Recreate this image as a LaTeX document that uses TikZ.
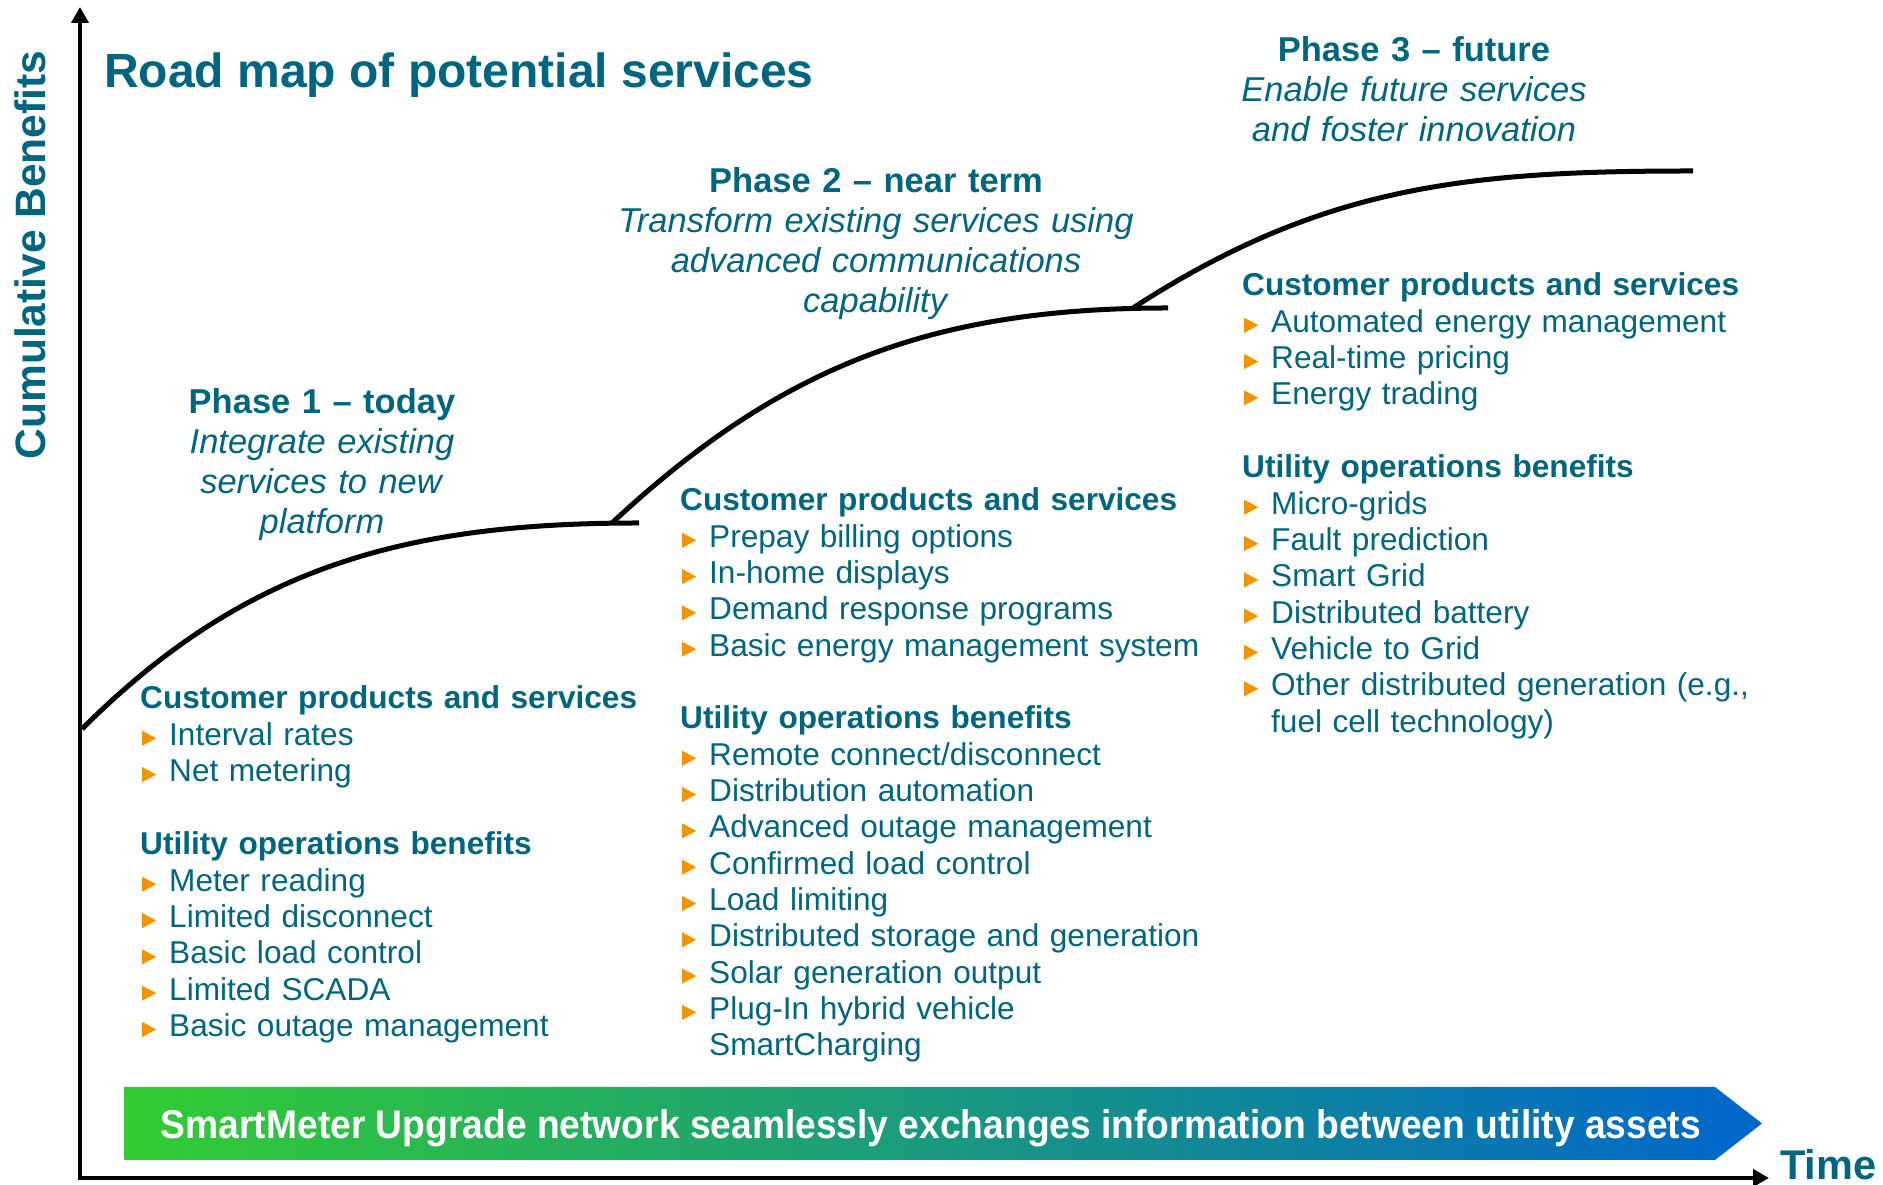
\documentclass[tikz,border=0pt]{standalone}
\usepackage{fontspec}
\setmainfont{Liberation Sans}
\newfontfamily\bandfont[FakeStretch=0.93]{Liberation Sans}
\usetikzlibrary{arrows.meta}

\definecolor{roadteal}{RGB}{0,102,128}
\definecolor{bulorange}{RGB}{242,148,0}
\definecolor{bandgreen}{RGB}{51,204,51}
\definecolor{bandblue}{RGB}{0,102,204}

% orange bullet and the indent of a continued line
\newcommand{\bul}{\hspace*{2pt}\tikz[baseline=0pt]\fill[bulorange] (0pt,-0.5pt) -- (0pt,14.5pt) -- (14pt,7pt) -- cycle;\hspace*{13pt}}
\newcommand{\cont}{\hspace*{29pt}}

\begin{document}
\begin{tikzpicture}[x=1pt, y=1pt,
    phase/.style = {align=center, text width=560pt, text=roadteal, inner sep=0pt, anchor=base, font=\fontsize{34.5}{40}\selectfont},
    list/.style = {align=left, text width=560pt, text=roadteal, inner sep=0pt, anchor=base west, font=\fontsize{31.6}{36.3}\selectfont},
    curve/.style = {line width=5pt},
    axis/.style = {line width=4.5pt, {Triangle[length=16pt,width=17pt]}-{Triangle[length=16pt,width=17pt]}}]

    \useasboundingbox (0,0) rectangle (1883,1185);

    % Osi
    \coordinate (ytop) at (80,1178);
    \coordinate (origin) at (80,7);
    \coordinate (xend) at (1769,7);
    \draw[axis] (ytop) -- (origin) -- (xend);

    \node[rotate=90, anchor=base, inner sep=0pt, text=roadteal, font=\fontsize{42.5}{42.5}\selectfont\bfseries] (cumben) at (45,930) {Cumulative Benefits};
    \node[anchor=base west, inner sep=0pt, text=roadteal, font=\fontsize{41.5}{41.5}\selectfont\bfseries] (time) at (1780,5) {Time};
    \node[anchor=base west, inner sep=0pt, text=roadteal, font=\fontsize{48}{48}\selectfont\bfseries] (title) at (104,1097) {Road map of potential services};

    % Krivulje faz
    \coordinate (c1s) at (82,456);
    \coordinate (c1e) at (639,662);
    \coordinate (c2s) at (612,662);
    \coordinate (c2e) at (1168,877);
    \coordinate (c3s) at (1133,877);
    \coordinate (c3e) at (1693,1014);
    \draw[curve] (c1s) to[out=45,in=180] (c1e);
    \draw[curve] (c2s) to[out=43,in=180] (c2e);
    \draw[curve] (c3s) to[out=33,in=180] (c3e);

    % Faze
    \node[phase] (ph1) at (322,771) {\textbf{Phase 1 -- today}\\ \textit{Integrate existing}\\ \textit{services to new}\\ \textit{platform}};
    \node[phase] (ph2) at (876,992) {\textbf{Phase 2 -- near term}\\ \textit{Transform existing services using}\\ \textit{advanced communications}\\ \textit{capability}};
    \node[phase] (ph3) at (1414,1123) {\textbf{Phase 3 -- future}\\ \textit{Enable future services}\\ \textit{and foster innovation}};

    % Seznami storitev
    \node[list] (p1cust) at (140,476) {\textbf{Customer products and services}\\ \bul Interval rates\\ \bul Net metering};
    \node[list] (p1util) at (140,330) {\textbf{Utility operations benefits}\\ \bul Meter reading\\ \bul Limited disconnect\\ \bul Basic load control\\ \bul Limited SCADA\\ \bul Basic outage management};

    \node[list] (p2cust) at (680,674) {\textbf{Customer products and services}\\ \bul Prepay billing options\\ \bul In-home displays\\ \bul Demand response programs\\ \bul Basic energy management system};
    \node[list] (p2util) at (680,456) {\textbf{Utility operations benefits}\\ \bul Remote connect/disconnect\\ \bul Distribution automation\\ \bul Advanced outage management\\ \bul Confirmed load control\\ \bul Load limiting\\ \bul Distributed storage and generation\\ \bul Solar generation output\\ \bul Plug-In hybrid vehicle\\ \cont SmartCharging};

    \node[list] (p3cust) at (1242,889) {\textbf{Customer products and services}\\ \bul Automated energy management\\ \bul Real-time pricing\\ \bul Energy trading};
    \node[list] (p3util) at (1242,707) {\textbf{Utility operations benefits}\\ \bul Micro-grids\\ \bul Fault prediction\\ \bul Smart Grid\\ \bul Distributed battery\\ \bul Vehicle to Grid\\ \bul Other distributed generation (e.g.,\\ \cont fuel cell technology)};

    % Pasica
    \shade[left color=bandgreen, right color=bandblue] (124,98) -- (1715,98) -- (1762,61.5) -- (1715,25) -- (124,25) -- cycle;
    \node[anchor=base, inner sep=0pt, text=white, font=\fontsize{40}{40}\bandfont\bfseries] (band) at (931,46) {SmartMeter Upgrade network seamlessly exchanges information between utility assets};

\end{tikzpicture}
\end{document}
